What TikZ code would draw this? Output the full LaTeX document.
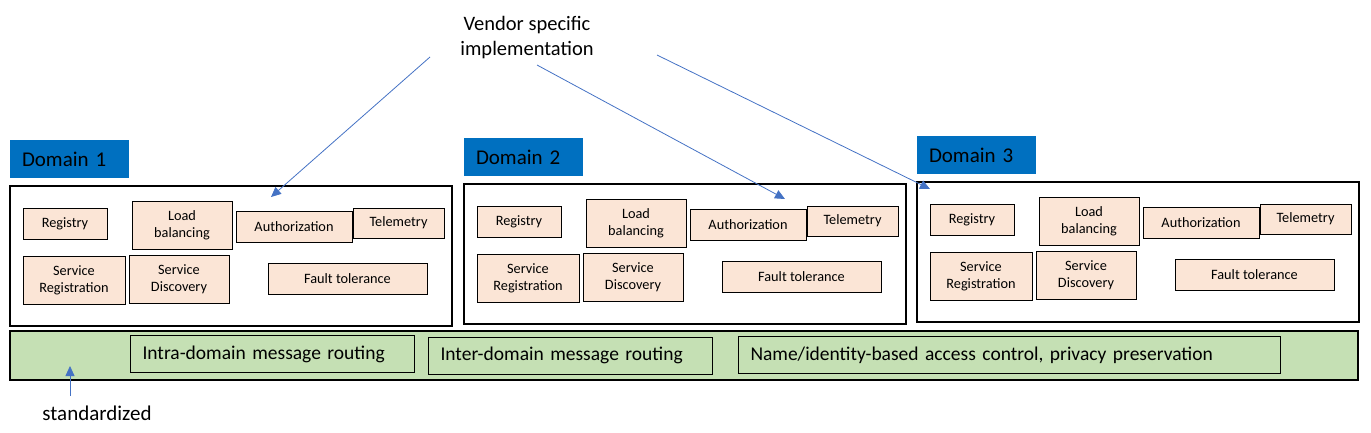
\documentclass[tikz,border=0pt]{standalone}
\usepackage{fontspec}
\setmainfont{Carlito}
\usetikzlibrary{arrows.meta}
\definecolor{domblue}{HTML}{0070C0}
\definecolor{peach}{HTML}{FBE5D6}
\definecolor{leaf}{HTML}{C5E0B4}
\definecolor{arrowblue}{HTML}{4472C4}

\begin{document}
\begin{tikzpicture}[x=1pt, y=-1pt,
  svc/.style={draw, fill=peach, line width=1pt, align=center, inner sep=0pt, font=\fontsize{14.3}{17}\selectfont},
  domlabel/.style={fill=domblue, minimum height=38pt, text width=95pt, align=left, inner xsep=12pt, font=\fontsize{21}{25}\selectfont},
  domframe/.style={draw, line width=2pt, inner sep=0pt},
  route/.style={draw, fill=leaf, line width=1pt, minimum height=37pt, align=left, inner xsep=12pt, anchor=west, font=\fontsize{19.5}{23}\selectfont},
  ptr/.style={draw=arrowblue, line width=0.8pt, -{Triangle[length=10pt,width=9pt]}, arrowblue}]
\useasboundingbox (0,0) rectangle (1371,432);

% the three domains
\foreach \i/\dx/\dy in {1/0/0, 2/454/-2, 3/907/-4} {
  \node[domlabel] (lab\i) at ({69.5+\dx},{159+\dy}) {Domain \i};
  \node[domframe, minimum width=442pt, minimum height=140pt] (dom\i) at ({231+\dx},{256+\dy}) {};
  \node[svc, minimum width=84pt, minimum height=31pt] (reg\i) at ({65+\dx},{223.5+\dy}) {Registry};
  \node[svc, minimum width=100pt, minimum height=48pt] (lb\i) at ({182+\dx},{225+\dy}) {Load\\balancing};
  \node[svc, minimum width=116pt, minimum height=31pt] (auth\i) at ({294+\dx},{226.5+\dy}) {Authorization};
  \node[svc, minimum width=91pt, minimum height=30pt] (tel\i) at ({398.5+\dx},{223+\dy}) {Telemetry};
  \node[svc, minimum width=102pt, minimum height=48pt] (sreg\i) at ({74+\dx},{280+\dy}) {Service\\Registration};
  \node[svc, minimum width=100pt, minimum height=48pt] (sdisc\i) at ({179+\dx},{279+\dy}) {Service\\Discovery};
  \node[svc, minimum width=159pt, minimum height=31pt] (ft\i) at ({347.5+\dx},{278.5+\dy}) {Fault tolerance};
}

% standardized layer
\node[draw, fill=leaf, line width=2pt, minimum width=1348pt, minimum height=49pt] (bus) at (684,355.5) {};
\node[route, text width=260pt] (intra) at (130,354) {Intra-domain message routing};
\node[route, text width=260pt] (inter) at (428,355.5) {Inter-domain message routing};
\node[route, text width=518pt] (acl) at (738,355) {Name/identity-based access control, privacy preservation};

% annotations
\node[align=center, font=\fontsize{20.5}{25}\selectfont] (vendor) at (527,38) {Vendor specific\\implementation};
\node[font=\fontsize{21}{25}\selectfont] (std) at (97,413) {standardized};

\coordinate (v1) at (430,57);
\coordinate (v2) at (537,65);
\coordinate (v3) at (657,55);
\coordinate (t1) at (271,197);
\coordinate (t2) at (785,199);
\coordinate (t3) at (930,189);
\draw[ptr] (v1) -- (t1);
\draw[ptr] (v2) -- (t2);
\draw[ptr] (v3) -- (t3);

\coordinate (stail) at (70,396);
\coordinate (stip) at (70,366);
\draw[ptr] (stail) -- (stip);
\end{tikzpicture}
\end{document}
